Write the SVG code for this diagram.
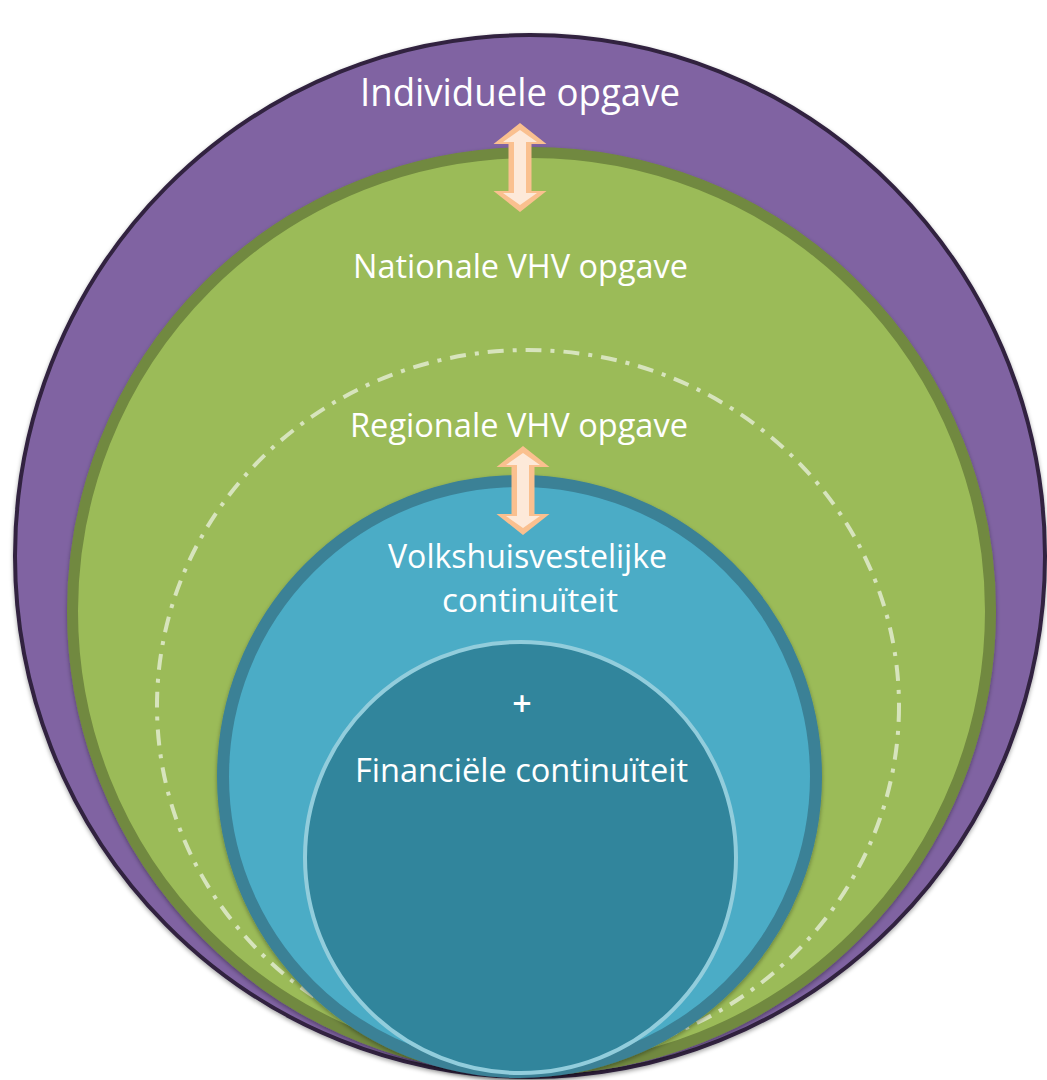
<svg xmlns="http://www.w3.org/2000/svg" width="1047" height="1080" viewBox="0 0 1047 1080">
<style>
.lbl{font-family:"Open Sans","Noto Sans","Liberation Sans",sans-serif;fill:#ffffff;text-anchor:middle}
</style>
<defs>
<filter id="sh" x="-5%" y="-5%" width="110%" height="110%">
<feDropShadow dx="0" dy="2" stdDeviation="2" flood-color="#000" flood-opacity="0.35"/>
</filter>
<g id="arrow">
<polygon points="0,0 26.5,21 11.5,21 11.5,68 26.5,68 0,89 -26.5,68 -11.5,68 -11.5,21 -26.5,21" fill="#fac08f"/>
<polygon points="0,7 17,19 6,19 6,70 17,70 0,82 -17,70 -6,70 -6,19 -17,19" fill="#fde9d9"/>
</g>
</defs>
<rect width="1047" height="1080" fill="#ffffff"/>
<g id="individueel">
<ellipse cx="530" cy="556" rx="515" ry="521" fill="#8064a2" stroke="#30243f" stroke-width="4" filter="url(#sh)"/>
<text class="lbl" x="520" y="106" font-size="38" textLength="320" lengthAdjust="spacingAndGlyphs">Individuele opgave</text>
</g>
<g id="nationaal">
<ellipse cx="531.5" cy="611" rx="459" ry="458.5" fill="#9bbb59" stroke="#71893f" stroke-width="11" filter="url(#sh)"/>
<text class="lbl" x="520.5" y="278" font-size="32" textLength="335" lengthAdjust="spacingAndGlyphs">Nationale VHV opgave</text>
</g>
<g id="regionaal">
<ellipse cx="528" cy="706" rx="371" ry="356" fill="none" stroke="#d7e4bd" stroke-width="4" stroke-dasharray="16 9 4 9"/>
<text class="lbl" x="519" y="437" font-size="32" textLength="338" lengthAdjust="spacingAndGlyphs">Regionale VHV opgave</text>
</g>
<g id="volkshuisvestelijk">
<ellipse cx="519.5" cy="776.5" rx="296.5" ry="295.5" fill="#4bacc6" stroke="#3b8196" stroke-width="12" filter="url(#sh)"/>
<text class="lbl" x="527.5" y="568" font-size="32" textLength="279" lengthAdjust="spacingAndGlyphs">Volkshuisvestelijke</text>
<text class="lbl" x="530" y="612" font-size="32" textLength="176" lengthAdjust="spacingAndGlyphs">continuïteit</text>
</g>
<g id="financieel">
<ellipse cx="520.5" cy="857.5" rx="215.5" ry="215.5" fill="#31859c" stroke="#92cddc" stroke-width="4"/>
<text class="lbl" x="522" y="716" font-size="34" font-weight="600">+</text>
<text class="lbl" x="521.5" y="782" font-size="32" textLength="333" lengthAdjust="spacingAndGlyphs">Financiële continuïteit</text>
</g>
<g id="connectors">
<use href="#arrow" transform="translate(520,123)"/>
<use href="#arrow" transform="translate(523,446)"/>
</g>
</svg>
